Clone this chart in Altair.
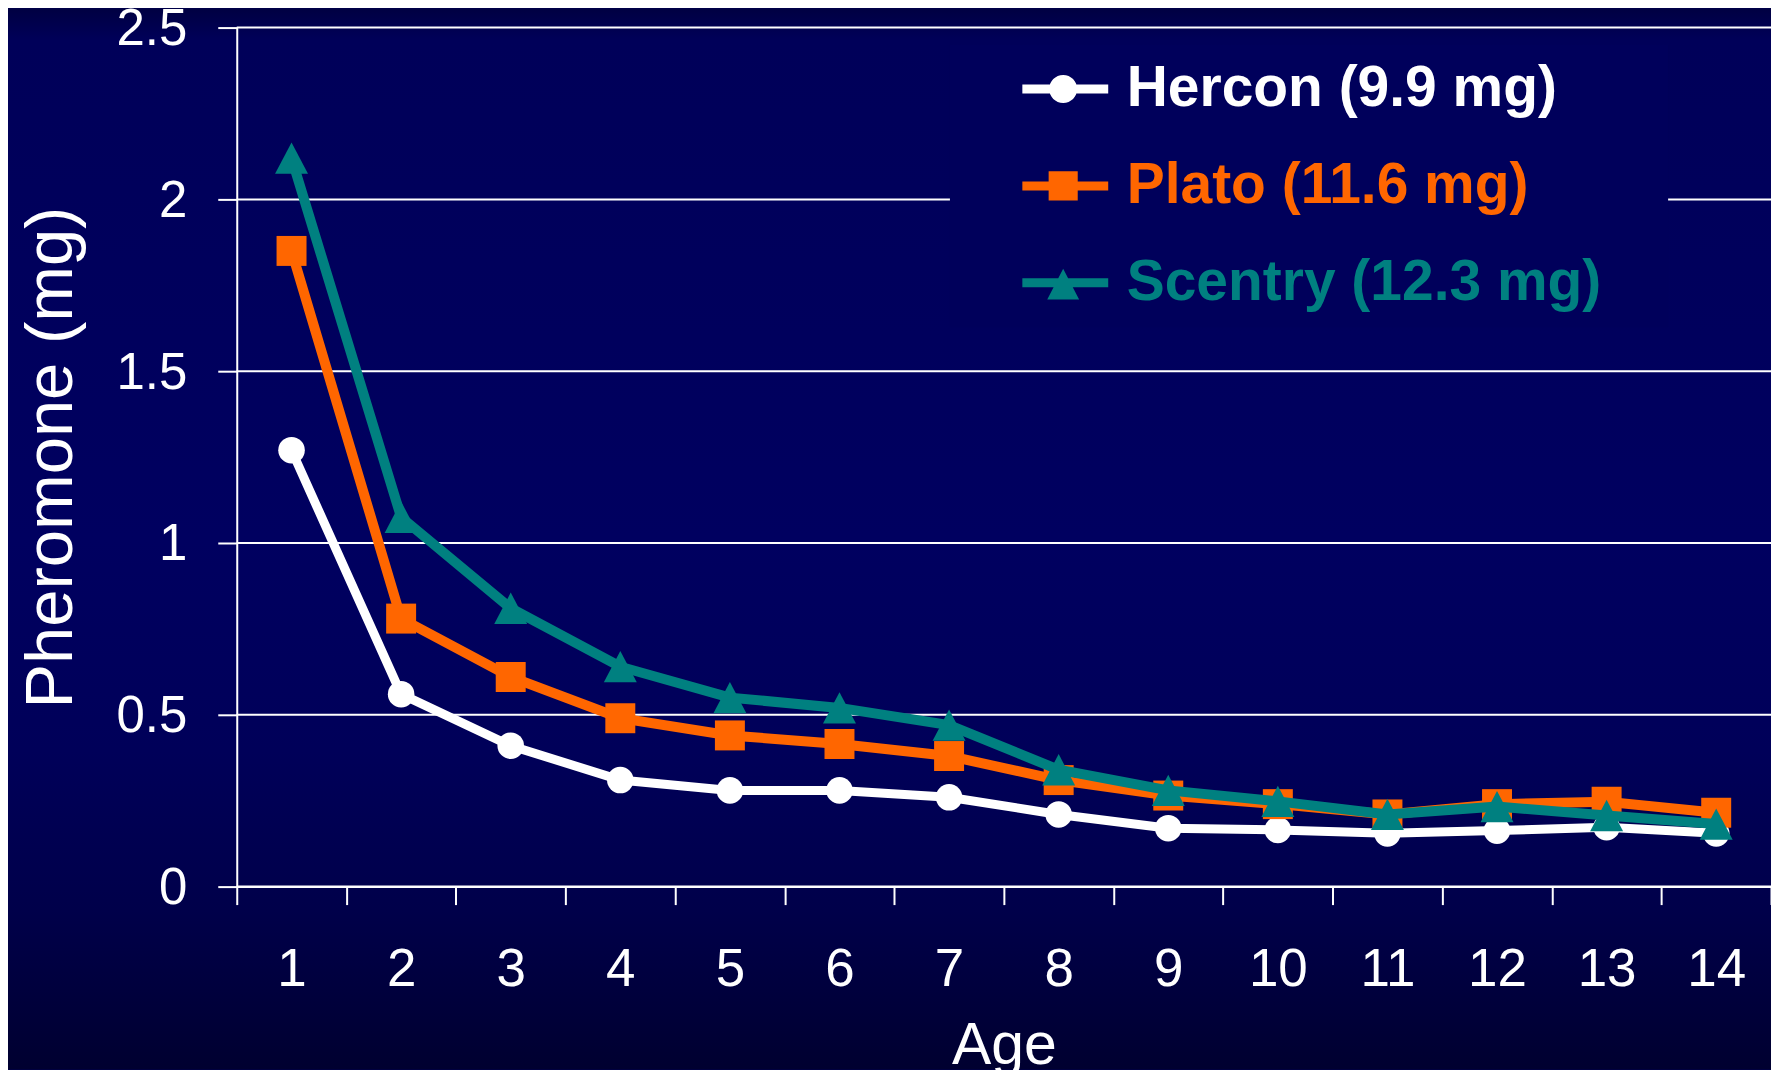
import altair as alt
import pandas as pd

# ---------------- data ----------------
ages = list(range(1, 15))
series_names = ["Hercon (9.9 mg)", "Plato (11.6 mg)", "Scentry (12.3 mg)"]
hercon = [1.27, 0.56, 0.41, 0.31, 0.28, 0.28, 0.26, 0.21, 0.17, 0.165, 0.155, 0.163, 0.173, 0.155]
plato = [1.85, 0.78, 0.61, 0.49, 0.44, 0.415, 0.38, 0.31, 0.265, 0.24, 0.21, 0.24, 0.247, 0.215]
scentry = [2.12, 1.075, 0.81, 0.64, 0.55, 0.52, 0.47, 0.34, 0.28, 0.248, 0.21, 0.233, 0.207, 0.182]
y_ticks = [0, 0.5, 1, 1.5, 2, 2.5]
x_boundaries = [a - 0.5 for a in ages] + [ages[-1] + 0.5]
colors = ["#ffffff", "#ff6600", "#008080"]

rows = []
for name, vals in zip(series_names, [hercon, plato, scentry]):
    for a, v in zip(ages, vals):
        rows.append({"age": a, "value": v, "series": name})
df = pd.DataFrame(rows)
grid_df = pd.DataFrame({"tick": y_ticks})

# ---------------- layout / style ----------------
W, H = 1536, 860
PAD_L, PAD_T, PAD_R, PAD_B = 229, 19, 0, 183
FONT = "Liberation Sans"
half_band = W / len(ages) / 2
LEGEND_FILL = "#00005b"

x_scale = alt.Scale(domain=[x_boundaries[0], x_boundaries[-1]], nice=False, zero=False)
y_scale = alt.Scale(domain=[0, 2.5], nice=False, zero=True)

x_axis = alt.Axis(
    values=x_boundaries,
    labelExpr=f"datum.value < {ages[-1]} ? format(datum.value + 0.5, 'd') : ''",
    labelOffset=half_band,
    labelFlush=False,
    labelOverlap=False,
    grid=False,
    tickSize=18, tickWidth=2, tickColor="white",
    domainColor="white", domainWidth=2,
    labelFont=FONT, labelFontSize=53, labelColor="white", labelPadding=39,
    title="Age", titleFont=FONT, titleFontSize=59, titleFontWeight="normal",
    titleColor="white", titlePadding=20,
    zindex=1,
)
y_axis = alt.Axis(
    values=y_ticks, format="~g",
    grid=False,
    tickSize=19, tickWidth=2, tickColor="white",
    domainColor="white", domainWidth=2,
    labelFont=FONT, labelFontSize=51, labelColor="white", labelPadding=31,
    labelOffset=2,
    title="Pheromone (mg)", titleFont=FONT, titleFontSize=67,
    titleFontWeight="normal", titleColor="white", titlePadding=31,
    zindex=1,
)
x_enc = alt.X("age:Q", scale=x_scale, axis=x_axis)
y_enc = alt.Y("value:Q", scale=y_scale, axis=y_axis)

point_shapes = ["circle", "square", "M0,-0.95 L1,0.95 L-1,0.95 Z"]
point_sizes = [707, 900, 1089]
line_widths = [9, 10, 10]

bar = "M1,-0.16 L4.07,-0.16 L4.07,0.16 L1,0.16 Z "
legend_paths = [
    bar + "M1.96,0 A0.5,0.5 0 1,1 2.96,0 A0.5,0.5 0 1,1 1.96,0 Z",
    bar + "M1.94,-0.52 L2.98,-0.52 L2.98,0.52 L1.94,0.52 Z",
    bar + "M2.46,-0.5 L3.03,0.6 L1.89,0.6 Z",
]

label_color_expr = (
    f"datum.value == '{series_names[0]}' ? '{colors[0]}' : "
    f"datum.value == '{series_names[1]}' ? '{colors[1]}' : '{colors[2]}'"
)

leg = alt.Legend(
    title=".",
    titleOrient="right",
    titleColor=LEGEND_FILL,
    titleFontSize=6,
    titlePadding=49,
    orient="none",
    legendX=714,
    legendY=17,
    padding=16,
    fillColor=LEGEND_FILL,
    symbolSize=3136,
    symbolStrokeWidth=0,
    symbolOpacity=1,
    labelFont=FONT,
    labelFontSize=57,
    labelFontWeight="bold",
    labelColor=alt.ExprRef(expr=label_color_expr),
    labelLimit=2000,
    labelOffset=104,
    rowPadding=39,
    zindex=1,
)

# background gradient (decoration only)
bg = alt.Chart(alt.Data(values=[{}])).mark_rect(
    color=alt.LinearGradient(
        gradient="linear",
        x1=0, x2=0, y1=0, y2=1,
        stops=[
            alt.GradientStop(offset=0.0, color="#000042"),
            alt.GradientStop(offset=0.03, color="#000059"),
            alt.GradientStop(offset=0.31, color="#00005d"),
            alt.GradientStop(offset=0.5, color="#000060"),
            alt.GradientStop(offset=0.7, color="#000059"),
            alt.GradientStop(offset=0.85, color="#00004a"),
            alt.GradientStop(offset=1.0, color="#000030"),
        ],
    )
).encode(
    x=alt.value(-PAD_L), x2=alt.value(W + PAD_R),
    y=alt.value(-PAD_T), y2=alt.value(H + PAD_B),
)

grid = alt.Chart(grid_df).mark_rule(color="white", strokeWidth=2).encode(
    y=alt.Y("tick:Q", scale=y_scale, axis=y_axis)
)

layers = [bg, grid]
base = alt.Chart(df)
for name, c, shp, sz, lw in zip(series_names, colors, point_shapes, point_sizes, line_widths):
    sub = base.transform_filter(alt.datum.series == name)
    layers.append(sub.mark_line(color=c, strokeWidth=lw).encode(x=x_enc, y=y_enc))
    layers.append(
        sub.mark_point(filled=True, opacity=1, shape=shp, size=sz, color=c, strokeWidth=0)
        .encode(x=x_enc, y=y_enc)
    )

legend_layer = base.transform_filter("false").mark_point(filled=True, opacity=1).encode(
    x=x_enc,
    y=y_enc,
    color=alt.Color("series:N", scale=alt.Scale(domain=series_names, range=colors), legend=leg),
    shape=alt.Shape("series:N", scale=alt.Scale(domain=series_names, range=legend_paths), legend=leg),
)
layers.append(legend_layer)

chart = alt.layer(*layers).properties(
    width=W,
    height=H,
    autosize=alt.AutoSizeParams(type="none"),
    padding={"left": PAD_L, "top": PAD_T, "right": PAD_R, "bottom": PAD_B},
    background="#000050",
).configure_view(stroke="transparent")

chart.save("out.html", embed_options={"renderer": "svg", "actions": False})
